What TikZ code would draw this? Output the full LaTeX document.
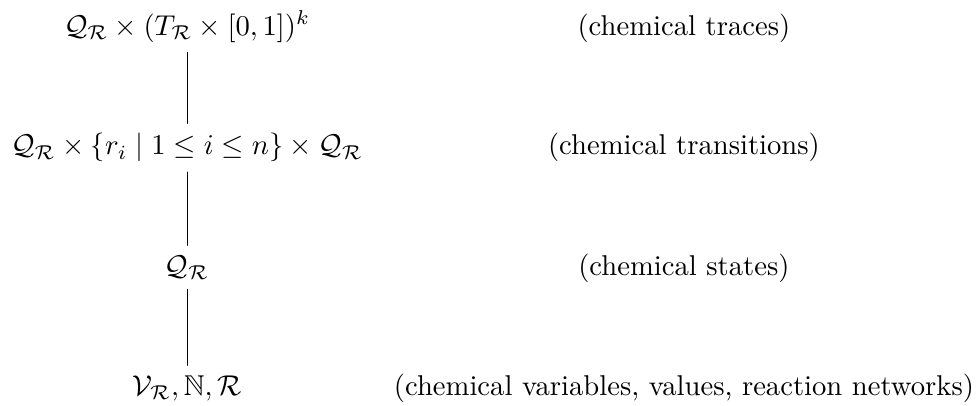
\documentclass[tikz,border=0pt]{standalone}
\usepackage{amsmath,amssymb}
\begin{document}
\begin{tikzpicture}[line cap=round,line join=round,
    level/.style={anchor=base},
    gloss/.style={anchor=base}]
  \useasboundingbox (0,0) rectangle (12.01,4.97);
  \node[level] (traces) at (2.295,4.54) {$\mathcal{Q}_{\mathcal{R}}\times(T_{\mathcal{R}}\times[0,1])^{k}$};
  \node[level] (trans) at (2.295,3.07) {$\mathcal{Q}_{\mathcal{R}}\times\{r_{i}\mid 1\leq i\leq n\}\times\mathcal{Q}_{\mathcal{R}}$};
  \node[level] (states) at (2.295,1.595) {$\mathcal{Q}_{\mathcal{R}}$};
  \node[level] (base) at (2.295,0.123) {$\mathcal{V}_{\mathcal{R}},\mathbb{N},\mathcal{R}$};
  \node[gloss] (tracesnote) at (8.39,4.54) {(chemical traces)};
  \node[gloss] (transnote) at (8.39,3.07) {(chemical transitions)};
  \node[gloss] (statesnote) at (8.39,1.595) {(chemical states)};
  \node[gloss] (basenote) at (8.39,0.123) {(chemical variables, values, reaction networks)};
  \draw[line width=0.4pt] (traces) -- (trans);
  \draw[line width=0.4pt] (trans) -- (states);
  \draw[line width=0.4pt] (states) -- (base);
\end{tikzpicture}
\end{document}
